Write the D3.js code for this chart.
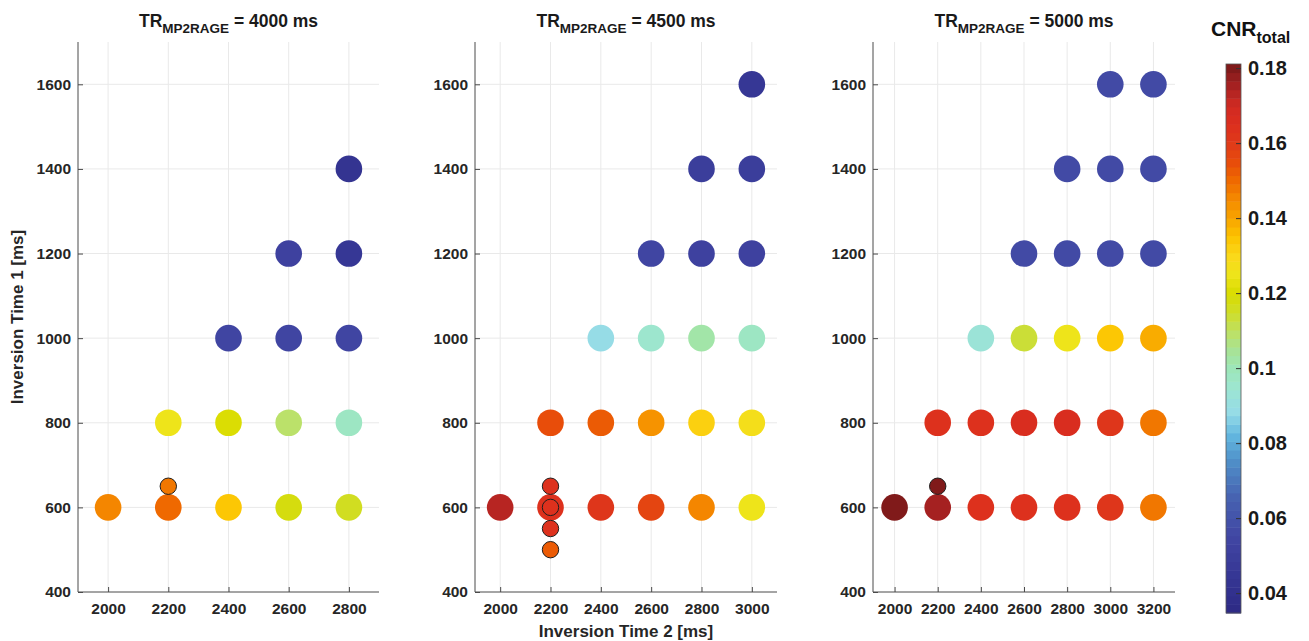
<!DOCTYPE html>
<html>
<head>
<meta charset="utf-8">
<script src="https://cdn.jsdelivr.net/npm/d3@7"></script>
<style>
  html, body { margin: 0; padding: 0; background: #fff; }
  svg { display: block; font-family: "Liberation Sans", Arial, Helvetica, sans-serif; font-weight: bold; }
</style>
</head>
<body>
<svg id="chart" width="1309" height="641"></svg>
<script>
// ---- data: CNR_total for each (TI2, TI1) pair, per TR_MP2RAGE ----
const trValues = ["4000", "4500", "5000"];

// TR = 4000 ms
const ti2_4000 = [2000, 2200, 2400, 2600, 2800, 2200, 2400, 2600, 2800, 2400, 2600, 2800, 2600, 2800, 2800];
const ti1_4000 = [600, 600, 600, 600, 600, 800, 800, 800, 800, 1000, 1000, 1000, 1200, 1200, 1400];
const cnr_4000 = [0.146, 0.150, 0.135, 0.119, 0.116, 0.125, 0.120, 0.109, 0.097, 0.055, 0.055, 0.055, 0.052, 0.046, 0.042];
const fineTi2_4000 = [2200];
const fineTi1_4000 = [650];
const fineCnr_4000 = [0.147];

// TR = 4500 ms
const ti2_4500 = [2000, 2200, 2400, 2600, 2800, 3000, 2200, 2400, 2600, 2800, 3000, 2400, 2600, 2800, 3000, 2600, 2800, 3000, 2800, 3000, 3000];
const ti1_4500 = [600, 600, 600, 600, 600, 600, 800, 800, 800, 800, 800, 1000, 1000, 1000, 1000, 1200, 1200, 1200, 1400, 1400, 1600];
const cnr_4500 = [0.172, 0.164, 0.161, 0.158, 0.145, 0.124, 0.155, 0.152, 0.144, 0.133, 0.127, 0.089, 0.095, 0.102, 0.097, 0.054, 0.053, 0.053, 0.050, 0.050, 0.046];
const fineTi2_4500 = [2200, 2200, 2200, 2200];
const fineTi1_4500 = [650, 600, 550, 500];
const fineCnr_4500 = [0.163, 0.164, 0.163, 0.152];

// TR = 5000 ms
const ti2_5000 = [2000, 2200, 2400, 2600, 2800, 3000, 3200, 2200, 2400, 2600, 2800, 3000, 3200, 2400, 2600, 2800, 3000, 3200, 2600, 2800, 3000, 3200, 2800, 3000, 3200, 3000, 3200];
const ti1_5000 = [600, 600, 600, 600, 600, 600, 600, 800, 800, 800, 800, 800, 800, 1000, 1000, 1000, 1000, 1000, 1200, 1200, 1200, 1200, 1400, 1400, 1400, 1600, 1600];
const cnr_5000 = [0.180, 0.175, 0.165, 0.164, 0.164, 0.161, 0.147, 0.165, 0.164, 0.166, 0.166, 0.161, 0.148, 0.093, 0.113, 0.126, 0.134, 0.139, 0.056, 0.056, 0.056, 0.056, 0.056, 0.056, 0.056, 0.056, 0.056];
const fineTi2_5000 = [2200];
const fineTi1_5000 = [650];
const fineCnr_5000 = [0.180];

const ti2Ticks_4000 = [2000, 2200, 2400, 2600, 2800];
const ti2Ticks_4500 = [2000, 2200, 2400, 2600, 2800, 3000];
const ti2Ticks_5000 = [2000, 2200, 2400, 2600, 2800, 3000, 3200];
const ti1Ticks = [400, 600, 800, 1000, 1200, 1400, 1600];
const cbarTicks = [0.04, 0.06, 0.08, 0.10, 0.12, 0.14, 0.16, 0.18];
const cbarTickLabels = ["0.04", "0.06", "0.08", "0.1", "0.12", "0.14", "0.16", "0.18"];

// ---- colour map (64 discrete levels) ----
const cMin = 0.0347, cMax = 0.1811, nLevels = 64;
const stopVals = [0.035, 0.045, 0.055, 0.065, 0.075, 0.082, 0.088, 0.095, 0.100, 0.105, 0.110, 0.115, 0.120, 0.125, 0.130, 0.135, 0.140, 0.145, 0.150, 0.155, 0.160, 0.165, 0.170, 0.175, 0.181];
const stopCols = ["#2d2a85", "#363795", "#4146a3", "#4660b0", "#4f8ec8", "#62b6df", "#95dbe8", "#9de6d0", "#9de6b8", "#a8e394", "#bfe060", "#cfdd28", "#d9dc00", "#eee41a", "#fbd81a", "#fcc400", "#f8a400", "#f58a00", "#ef6a00", "#e84c0a", "#df3a1a", "#dc2e1e", "#d02a22", "#a82222", "#781818"];
const cmapSmooth = d3.scaleLinear().domain(stopVals).range(stopCols).interpolate(d3.interpolateRgb).clamp(true);
const step = (cMax - cMin) / nLevels;
function cmap(v) {
  let i = Math.floor((v - cMin) / step);
  i = Math.max(0, Math.min(nLevels - 1, i));
  return cmapSmooth(cMin + (i + 0.5) * step);
}

// ---- layout ----
const svg = d3.select("#chart");
const yTop = 42, yBottom = 592;
const panels = [
  { tr: trValues[0], x0: 78, x1: 379, dom: [1900, 2900], ticks: ti2Ticks_4000, ti2: ti2_4000, ti1: ti1_4000, cnr: cnr_4000, fTi2: fineTi2_4000, fTi1: fineTi1_4000, fCnr: fineCnr_4000 },
  { tr: trValues[1], x0: 475, x1: 777, dom: [1900, 3100], ticks: ti2Ticks_4500, ti2: ti2_4500, ti1: ti1_4500, cnr: cnr_4500, fTi2: fineTi2_4500, fTi1: fineTi1_4500, fCnr: fineCnr_4500 },
  { tr: trValues[2], x0: 873, x1: 1175, dom: [1900, 3300], ticks: ti2Ticks_5000, ti2: ti2_5000, ti1: ti1_5000, cnr: cnr_5000, fTi2: fineTi2_5000, fTi1: fineTi1_5000, fCnr: fineCnr_5000 }
];

const y = d3.scaleLinear().domain([400, 1700]).range([yBottom, yTop]);
const axisColor = "#4a4a4a";
const gridColor = "#e9e9e9";
const tickFont = 15.5;

panels.forEach(p => {
  const x = d3.scaleLinear().domain(p.dom).range([p.x0, p.x1]);
  const g = svg.append("g");

  // grid
  g.append("g").selectAll("line.v").data(p.ticks).join("line")
    .attr("x1", d => x(d)).attr("x2", d => x(d))
    .attr("y1", yTop).attr("y2", yBottom)
    .attr("stroke", gridColor).attr("stroke-width", 1);
  g.append("g").selectAll("line.h").data(ti1Ticks.filter(t => t > 400)).join("line")
    .attr("x1", p.x0).attr("x2", p.x1)
    .attr("y1", d => y(d)).attr("y2", d => y(d))
    .attr("stroke", gridColor).attr("stroke-width", 1);

  // axes
  const xAxis = d3.axisBottom(x).tickValues(p.ticks).tickFormat(d3.format("d"))
    .tickSizeInner(-5).tickSizeOuter(0).tickPadding(11);
  const gx = g.append("g").attr("transform", `translate(0,${yBottom})`).call(xAxis);
  const yAxis = d3.axisLeft(y).tickValues(ti1Ticks).tickFormat(d3.format("d"))
    .tickSizeInner(-5).tickSizeOuter(0).tickPadding(7);
  const gy = g.append("g").attr("transform", `translate(${p.x0},0)`).call(yAxis);
  [gx, gy].forEach(a => {
    a.select(".domain").attr("stroke", axisColor);
    a.selectAll(".tick line").attr("stroke", axisColor);
    a.selectAll(".tick text").attr("fill", "#262626")
      .style("font-size", tickFont + "px").style("font-weight", "bold")
      .style("font-family", "'Liberation Sans', Arial, sans-serif");
  });
  // extend the x baseline to meet the y axis
  gx.select(".domain").attr("d", `M${p.x0},0H${p.x1}`);
  gy.select(".domain").attr("d", `M0,${yBottom}V${yTop}`);

  // main markers
  const pts = p.ti2.map((t, i) => ({ ti2: t, ti1: p.ti1[i], v: p.cnr[i] }));
  g.append("g").selectAll("circle").data(pts).join("circle")
    .attr("cx", d => x(d.ti2)).attr("cy", d => y(d.ti1))
    .attr("r", 13.3).attr("fill", d => cmap(d.v));

  // finer-sampled markers
  const fpts = p.fTi2.map((t, i) => ({ ti2: t, ti1: p.fTi1[i], v: p.fCnr[i] }));
  g.append("g").selectAll("circle").data(fpts).join("circle")
    .attr("cx", d => x(d.ti2)).attr("cy", d => y(d.ti1))
    .attr("r", 8.2).attr("fill", d => cmap(d.v))
    .attr("stroke", "#1f1f1f").attr("stroke-width", 1);

  // title
  const t = g.append("text").attr("x", (p.x0 + p.x1) / 2).attr("y", 27)
    .attr("text-anchor", "middle").attr("fill", "#1a1a1a").style("font-size", "17.5px");
  t.append("tspan").text("TR");
  t.append("tspan").attr("dy", 6).style("font-size", "13.5px").text("MP2RAGE");
  t.append("tspan").attr("dy", -6).text(` = ${p.tr} ms`);
});

// axis labels
svg.append("text").attr("transform", `translate(23,${(yTop + yBottom) / 2}) rotate(-90)`)
  .attr("text-anchor", "middle").attr("fill", "#262626").style("font-size", "17px")
  .text("Inversion Time 1 [ms]");
svg.append("text").attr("x", (panels[1].x0 + panels[1].x1) / 2).attr("y", 637)
  .attr("text-anchor", "middle").attr("fill", "#262626").style("font-size", "17px")
  .text("Inversion Time 2 [ms]");

// ---- colour bar ----
const cbX = 1226, cbW = 15, cbTop = 64, cbBottom = 613;
const cy = d3.scaleLinear().domain([cMin, cMax]).range([cbBottom, cbTop]);
const levels = d3.range(nLevels);
svg.append("g").selectAll("rect").data(levels).join("rect")
  .attr("x", cbX).attr("width", cbW)
  .attr("y", i => cy(cMin + (i + 1) * step))
  .attr("height", i => cy(cMin + i * step) - cy(cMin + (i + 1) * step) + 0.5)
  .attr("fill", i => cmapSmooth(cMin + (i + 0.5) * step));
svg.append("rect").attr("x", cbX).attr("y", cbTop).attr("width", cbW).attr("height", cbBottom - cbTop)
  .attr("fill", "none").attr("stroke", "#555").attr("stroke-width", 0.8);
const cAxis = d3.axisRight(cy).tickValues(cbarTicks).tickFormat((d, i) => cbarTickLabels[i])
  .tickSizeInner(-5).tickSizeOuter(0).tickPadding(7);
const gc = svg.append("g").attr("transform", `translate(${cbX + cbW},0)`).call(cAxis);
gc.select(".domain").remove();
gc.selectAll(".tick line").attr("stroke", "#333");
gc.selectAll(".tick text").attr("fill", "#1a1a1a")
  .style("font-size", "20px").style("font-weight", "bold")
  .style("font-family", "'Liberation Sans', Arial, sans-serif");

const ct = svg.append("text").attr("x", 1211).attr("y", 36).attr("fill", "#111").style("font-size", "21px");
ct.append("tspan").text("CNR");
ct.append("tspan").attr("dy", 7).style("font-size", "16px").text("total");
</script>
</body>
</html>
